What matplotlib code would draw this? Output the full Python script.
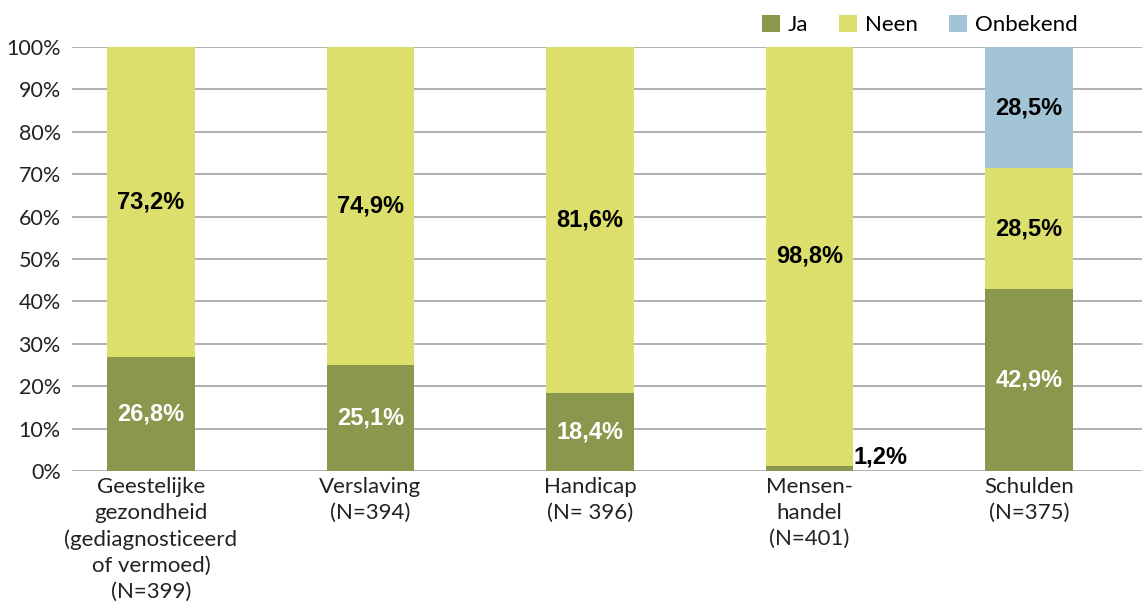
import numpy as np
import matplotlib.pyplot as plt

# --- data ---
categories = ['Geestelijke\ngezondheid\n(gediagnosticeerd\nof vermoed)\n(N=399)',
              'Verslaving\n(N=394)',
              'Handicap\n(N= 396)',
              'Mensen-\nhandel\n(N=401)',
              'Schulden\n(N=375)']
ja = [26.8, 25.1, 18.4, 1.2, 42.9]
neen = [73.2, 74.9, 81.6, 98.8, 28.5]
onbekend = [0, 0, 0, 0, 28.5]

c_ja = '#8a974c'
c_neen = '#dcdf6b'
c_onb = '#a3c3d6'

plt.rcParams['font.family'] = ['Lato', 'DejaVu Sans']

fig = plt.figure(figsize=(11.42, 6.08), dpi=100)
ax = fig.add_axes([0.063, 0.2253, 0.937, 0.6974])

x = np.arange(len(categories))
w = 0.4
ja = np.array(ja)
neen = np.array(neen)
onbekend = np.array(onbekend)

b1 = ax.bar(x, ja, w, color=c_ja, label='Ja', zorder=3)
b2 = ax.bar(x, neen, w, bottom=ja, color=c_neen, label='Neen', zorder=3)
b3 = ax.bar(x, onbekend, w, bottom=ja + neen, color=c_onb, label='Onbekend', zorder=3)

def pct(v):
    return f'{v:.1f}%'.replace('.', ',')

lbl = dict(fontsize=17, fontweight='bold', family='Liberation Sans', zorder=5)
for i in range(len(x)):
    if ja[i] > 5:
        ax.text(x[i], ja[i] / 2, pct(ja[i]), ha='center', va='center', color='white', **lbl)
    else:
        ax.text(x[i] + w / 2, ja[i] - 0.5, pct(ja[i]), ha='left', va='bottom', color='black', **lbl)
    ax.text(x[i], ja[i] + neen[i] / 2, pct(neen[i]), ha='center', va='center', color='black', **lbl)
    if onbekend[i] > 0:
        ax.text(x[i], ja[i] + neen[i] + onbekend[i] / 2, pct(onbekend[i]),
                ha='center', va='center', color='black', **lbl)

ax.set_ylim(0, 100)
ax.set_xlim(-0.36, 4.515)
ax.set_yticks(np.arange(0, 101, 10))
ax.set_yticklabels([f'{t}%' for t in range(0, 101, 10)], fontsize=15.5, color='#222222')
ax.set_xticks(x)
ax.set_xticklabels(categories, fontsize=16, color='#222222', linespacing=1.38)
ax.tick_params(axis='y', length=0, pad=8)
ax.tick_params(axis='x', length=0, pad=4)
ax.yaxis.grid(True, color='#aaaaaa', linewidth=1.3, zorder=0)
ax.set_axisbelow(True)
for s in ax.spines.values():
    s.set_visible(False)

leg = fig.legend(handles=[b1, b2, b3], loc='upper left', bbox_to_anchor=(0.65, 1.008),
                 ncol=3, frameon=False, fontsize=16, handlelength=0.8, handleheight=0.8,
                 handletextpad=0.35, columnspacing=1.4)

fig.savefig('out.png', dpi=100)
